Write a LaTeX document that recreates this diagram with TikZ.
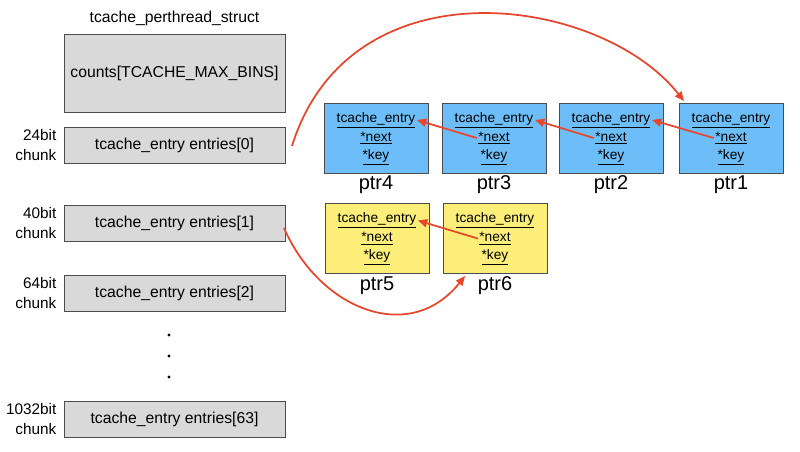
\documentclass[tikz,border=0pt]{standalone}
\usepackage{fontspec}
\setmainfont{Liberation Sans}
\usepackage{xcolor}
\usepackage{tikz}
\usetikzlibrary{arrows.meta}
\definecolor{slotgray}{HTML}{D9D9D9}
\definecolor{binblue}{HTML}{6DBEF8}
\definecolor{binyellow}{HTML}{FCEE78}
\definecolor{linkred}{HTML}{E8462C}
\tikzstyle{slot}=[draw=black!70, fill=slotgray, minimum width=165.75pt, minimum height=27pt, font=\fontsize{11.8}{13}\selectfont]
\tikzstyle{chunk}=[anchor=east, align=right, inner sep=1pt, font=\fontsize{11.5}{15}\selectfont]
\tikzstyle{blue box}=[draw=black!70, fill=binblue, minimum width=78pt, minimum height=52.5pt]
\tikzstyle{yellow box}=[draw=black!70, fill=binyellow, minimum width=78pt, minimum height=52.5pt]
\tikzstyle{field}=[inner sep=1pt, font=\fontsize{10.3}{11}\selectfont]
\tikzstyle{ptr}=[font=\fontsize{15}{17}\selectfont]
\tikzstyle{link}=[-{Triangle[length=7pt,width=6pt]}, draw=linkred, line width=1.3pt]
\pgfdeclarelayer{nodelayer}
\pgfdeclarelayer{edgelayer}
\pgfsetlayers{nodelayer,edgelayer,main}
\newcommand{\bin}[4]{%
  \node [style=#2] (#1) at (#3, #4) {};
  \node [style=field] (#1e) at (#3, #4-18) {\underline{tcache\_entry}};
  \node [style=field] (#1n) at (#3, #4) {\underline{*next}};
  \node [style=field] (#1k) at (#3, #4+19) {\underline{*key}};
}
\begin{document}
\begin{tikzpicture}[x=0.75pt, y=-0.75pt]
	\useasboundingbox (0, 0) rectangle (800, 451);
	\begin{pgfonlayer}{nodelayer}
		\node [font=\fontsize{11.8}{13}\selectfont] (title) at (174.5, 18) {tcache\_perthread\_struct};
		\node [style=slot, minimum height=58.5pt] (counts) at (174.5, 73) {counts[TCACHE\_MAX\_BINS]};
		\node [style=slot] (e0) at (174.5, 145) {tcache\_entry entries[0]};
		\node [style=slot] (e1) at (174.5, 223.5) {tcache\_entry entries[1]};
		\node [style=slot] (e2) at (174.5, 293.5) {tcache\_entry entries[2]};
		\node [style=slot] (e63) at (174.5, 419) {tcache\_entry entries[63]};
		\node [style=chunk] (l0) at (58, 145) {24bit\\chunk};
		\node [style=chunk] (l1) at (58, 223.5) {40bit\\chunk};
		\node [style=chunk] (l2) at (58, 293.5) {64bit\\chunk};
		\node [style=chunk] (l63) at (58, 419) {1032bit\\chunk};
		\foreach \y [count=\i] in {335, 356, 377}
			\fill (169, \y) circle (1.2pt) coordinate (dot\i);
		\bin{p4}{blue box}{376}{138}
		\bin{p3}{blue box}{494}{138}
		\bin{p2}{blue box}{611}{138}
		\bin{p1}{blue box}{731}{138}
		\bin{p5}{yellow box}{377}{238.5}
		\bin{p6}{yellow box}{495}{238.5}
		\node [style=ptr] (n4) at (376, 185) {ptr4};
		\node [style=ptr] (n3) at (494, 185) {ptr3};
		\node [style=ptr] (n2) at (611, 185) {ptr2};
		\node [style=ptr] (n1) at (731, 185) {ptr1};
		\node [style=ptr] (n5) at (377, 286) {ptr5};
		\node [style=ptr] (n6) at (495, 286) {ptr6};
		\coordinate (s0) at (292, 146);
		\coordinate (s1) at (284, 228);
		\coordinate (t1) at (684, 101);
		\coordinate (t6) at (465, 276);
	\end{pgfonlayer}
	\begin{pgfonlayer}{edgelayer}
		\draw [style=link] (p3n.west) to (p4e.east);
		\draw [style=link] (p2n.west) to (p3e.east);
		\draw [style=link] (p1n.west) to (p2e.east);
		\draw [style=link] (p6n.west) to (p5e.east);
		\draw [style=link] (s0) .. controls (350, -40) and (600, -5) .. (t1);
		\draw [style=link] (s1) .. controls (320, 310) and (410, 345) .. (t6);
	\end{pgfonlayer}
\end{tikzpicture}
\end{document}
